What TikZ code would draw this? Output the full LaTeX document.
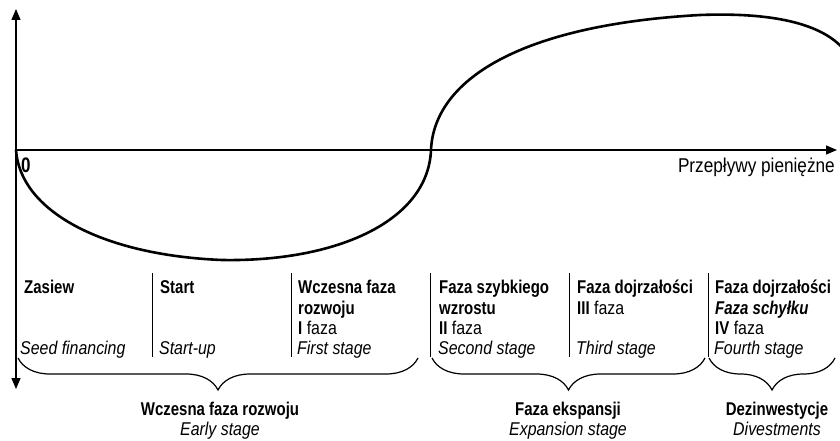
\documentclass[tikz,border=0pt]{standalone}
\usepackage{fontspec}
\setmainfont{Liberation Sans}[FakeStretch=0.86,
  BoldFeatures={FakeStretch=0.81}, BoldItalicFeatures={FakeStretch=0.81}]
\usepackage{tikz}
\usetikzlibrary{arrows.meta, decorations.pathreplacing, positioning}
\newcommand{\stagesize}{\fontsize{18.5}{22}\selectfont}
\tikzset{
	axis/.style={line width=1.4pt, arrows={-Triangle[length=11pt,width=9pt]}}
}
\tikzset{
	curve/.style={line width=2.6pt, line cap=round}
}
\tikzset{
	stagehead/.style={font=\stagesize\bfseries, anchor=base west, inner sep=0pt},
	stagenote/.style={font=\stagesize, anchor=base west, inner sep=0pt},
	stageeng/.style={font=\stagesize\itshape, anchor=base west, inner sep=0pt},
	separator/.style={line width=0.9pt},
	phasebrace/.style={line width=1.2pt, decorate,
	  decoration={brace, mirror, amplitude=32pt}},
	phasename/.style={font=\stagesize\bfseries, anchor=base, inner sep=0pt},
	phaseeng/.style={font=\stagesize\itshape, anchor=base, inner sep=0pt}
}

\begin{document}
\begin{tikzpicture}[x=1pt, y=-1pt]
      \useasboundingbox (0,0) rectangle (840,441);

      % axes
      \coordinate (origin) at (16,150);
      \coordinate (ytop) at (16,9);
      \coordinate (ybottom) at (16,389);
      \coordinate (xend) at (837,150);
      \draw[axis] (origin) -- (ytop);
      \draw[axis] (origin) -- (ybottom);
      \draw[axis] (origin) -- (xend);
      \node[stagehead, font=\fontsize{21}{24}\selectfont\bfseries] (zero) at (21,172) {0};
      \node[font=\fontsize{20}{24}\selectfont, anchor=base east, inner sep=0pt]
        (flowlabel) at (835,172) {Przepływy pieniężne};

      % cash flow curve
      \coordinate (low) at (222,260);
      \coordinate (cross) at (431,150);
      \coordinate (high) at (700,15);
      \begin{scope}
        \clip (0,0) rectangle (840,441);
        \draw[curve] (origin) .. controls (20,210) and (100,255) .. (low)
          .. controls (335,262) and (428,222) .. (cross)
          .. controls (434,80) and (520,25) .. (high)
          .. controls (780,12) and (826,26) .. (846,52);
      \end{scope}

      % stage separators
      \foreach \x in {152,291,430,569,708} {
        \draw[separator] (\x,273) -- (\x,357);
      }

      % stages
      \node[stagehead] (seed) at (24,293) {Zasiew};
      \node[stageeng] (seedeng) at (20,354) {Seed financing};

      \node[stagehead] (start) at (160,293) {Start};
      \node[stageeng] (starteng) at (159,354) {Start-up};

      \node[stagehead] (first) at (298,293) {Wczesna faza};
      \node[stagehead] (firstb) at (298,314) {rozwoju};
      \node[stagenote] (firstc) at (298,334) {\textbf{I} faza};
      \node[stageeng] (firsteng) at (297,354) {First stage};

      \node[stagehead] (second) at (439,293) {Faza szybkiego};
      \node[stagehead] (secondb) at (439,314) {wzrostu};
      \node[stagenote] (secondc) at (439,334) {\textbf{II} faza};
      \node[stageeng] (secondeng) at (438,354) {Second stage};

      \node[stagehead] (third) at (577,293) {Faza dojrzałości};
      \node[stagenote] (thirdb) at (577,314) {\textbf{III} faza};
      \node[stageeng] (thirdeng) at (576,354) {Third stage};

      \node[stagehead] (fourth) at (715,293) {Faza dojrzałości};
      \node[stagehead, font=\stagesize\bfseries\itshape] (fourthb) at (715,314) {Faza schyłku};
      \node[stagenote] (fourthc) at (715,334) {\textbf{IV} faza};
      \node[stageeng] (fourtheng) at (714,354) {Fourth stage};

      % phase braces
      \draw[phasebrace] (18,358) -- (418,358);
      \draw[phasebrace] (432,358) -- (705,358);
      \draw[phasebrace] (709,358) -- (835,358);

      \node[phasename] (early) at (220,415) {Wczesna faza rozwoju};
      \node[phaseeng] (earlyeng) at (220,435) {Early stage};
      \node[phasename] (expansion) at (568,415) {Faza ekspansji};
      \node[phaseeng] (expansioneng) at (568,435) {Expansion stage};
      \node[phasename] (divest) at (777,415) {Dezinwestycje};
      \node[phaseeng] (divesteng) at (777,435) {Divestments};
    \end{tikzpicture}
\end{document}
